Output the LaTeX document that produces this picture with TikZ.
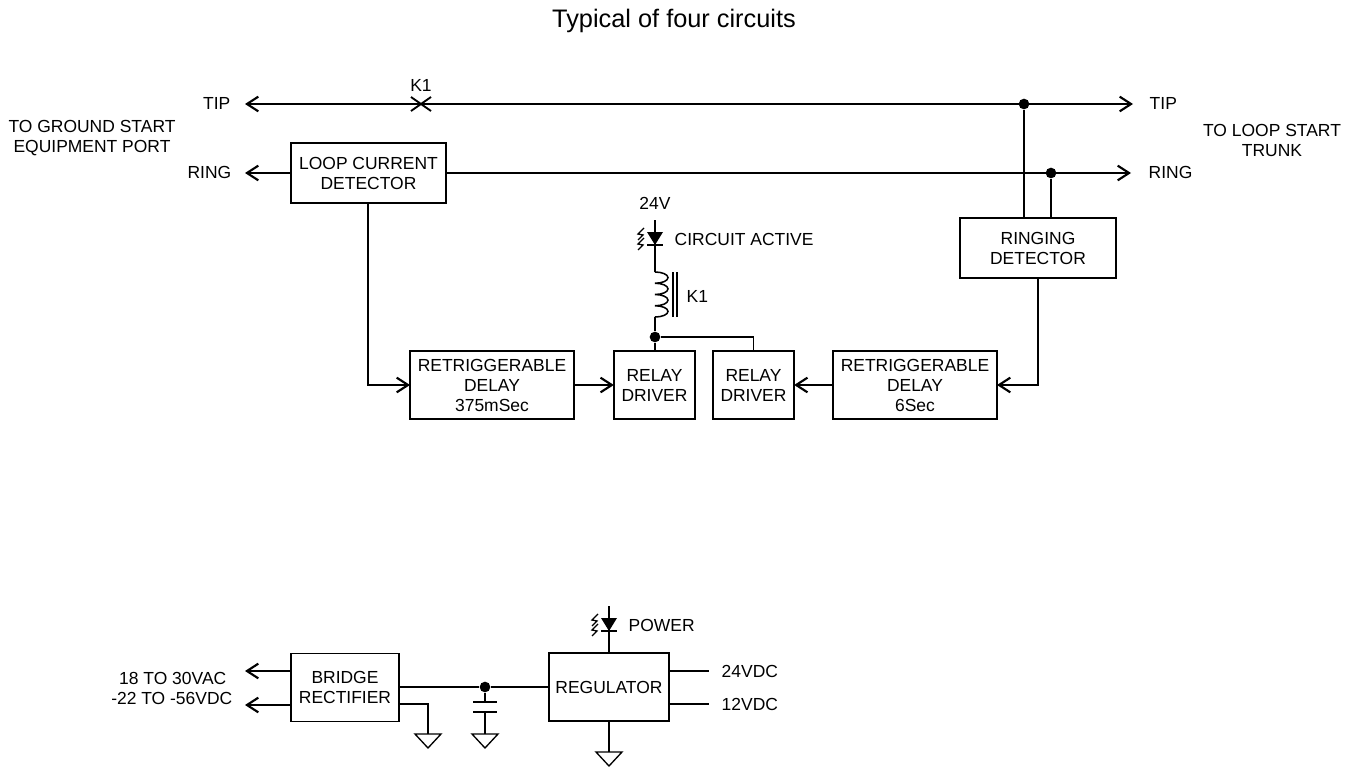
\documentclass[tikz,border=0pt]{standalone}
\usepackage{fontspec}
\setmainfont{Liberation Sans}
\usetikzlibrary{arrows.meta, calc}

\begin{document}
\begin{tikzpicture}[
  x=0.75pt, y=-0.75pt,
  font=\fontsize{13.1}{15}\selectfont,
  line width=1.1pt,
  blk/.style ={draw, align=center, inner sep=0pt, outer sep=0pt},
  lbl/.style ={align=center, inner sep=0pt},
  wire/.style={draw, line width=1.15pt},
  sig/.style ={draw, line width=1.15pt, -{Straight Barb[length=8.5pt,width=11pt,line width=1.6pt]}},
  both/.style={draw, line width=1.15pt, {Straight Barb[length=8.5pt,width=11pt,line width=1.6pt]}-{Straight Barb[length=8.5pt,width=11pt,line width=1.6pt]}},
  dot/.style ={circle, fill=black, inner sep=0pt, minimum size=8pt},
  gnd/.pic={\draw[line width=1pt] (-13,0) -- (13,0) -- (0,14) -- cycle;},
  led/.pic={
    \fill (-8,-13) -- (8,-13) -- (0,0) -- cycle;
    \draw[line width=1.1pt] (-8,0) -- (8,0);
    \draw[line width=1pt] (-11,-17) -- (-17,-11) -- (-12,-10) -- (-17,-5);
    \draw[line width=1pt] (-11,-7) -- (-17,-1) -- (-12,0) -- (-17,5);
  },
]
\useasboundingbox (0,0) rectangle (1350,767);

% =========================== TITLE ==================================
\node[lbl, font=\fontsize{19}{22}\selectfont] (title) at (674, 21) {Typical of four circuits};

% =========================== NODES ==================================
\node[blk, minimum width=116pt, minimum height=45pt] (loop)  at (368.5, 173) {LOOP CURRENT\\DETECTOR};
\node[blk, minimum width=117pt, minimum height=45pt] (ring)  at (1038, 248) {RINGING\\DETECTOR};
\node[blk, minimum width=123pt, minimum height=51pt] (retA)  at (492, 385) {RETRIGGERABLE\\DELAY\\375mSec};
\node[blk, minimum width=61pt,  minimum height=51pt] (drvA)  at (654.5, 385) {RELAY\\DRIVER};
\node[blk, minimum width=61pt,  minimum height=51pt] (drvB)  at (753.5, 385) {RELAY\\DRIVER};
\node[blk, minimum width=123pt, minimum height=51pt] (retB)  at (915, 385) {RETRIGGERABLE\\DELAY\\6Sec};
\node[blk, minimum width=81pt,  minimum height=51pt] (brdg)  at (345, 687.5) {BRIDGE\\RECTIFIER};
\node[blk, minimum width=90pt,  minimum height=51pt] (regl)  at (609, 687) {REGULATOR};

% =========================== LABELS =================================
\node[lbl] (gsport) at (92, 138) {TO GROUND START\\EQUIPMENT PORT};
\node[lbl] (lstrnk) at (1272, 140) {TO LOOP START\\TRUNK};
\node[lbl, anchor=east] (tipL)  at (231, 103) {TIP};
\node[lbl, anchor=east] (ringL) at (232, 172) {RING};
\node[lbl, anchor=west] (tipR)  at (1149, 103) {TIP};
\node[lbl, anchor=west] (ringR) at (1148, 172) {RING};
\node[lbl] (kone)  at (421, 85) {K1};
\node[lbl] (vsup)  at (655, 203) {24V};
\node[lbl, anchor=west] (actv) at (674, 239) {CIRCUIT ACTIVE};
\node[lbl, anchor=west] (ktwo) at (686, 296) {K1};
\node[lbl, anchor=west] (powr) at (628, 625) {POWER};
\node[lbl, anchor=east] (acin) at (227, 678) {18 TO 30VAC};
\node[lbl, anchor=east] (dcin) at (233, 698) {-22 TO -56VDC};
\node[lbl, anchor=west] (vtf)  at (721, 671) {24VDC};
\node[lbl, anchor=west] (vtw)  at (721, 704) {12VDC};

% ======================= FREE ENDS ==================================
\coordinate (tipA)  at (245, 104);
\coordinate (tipB)  at (1133, 104);
\coordinate (ringA) at (245, 173);
\coordinate (ringB) at (1131, 173);
\coordinate (kx)    at (421, 104);
\coordinate (loopD) at (368, 203);
\coordinate (ledA)  at (655, 245);
\coordinate (ledB)  at (609, 631);
\coordinate (coilT) at (655, 272);
\coordinate (coilB) at (655, 317);
\coordinate (acA)   at (245, 671);
\coordinate (dcA)   at (245, 705);
\coordinate (gndA)  at (428, 734);
\coordinate (gndB)  at (485, 734);
\coordinate (gndC)  at (609, 752);
\coordinate (capT)  at (485, 702);
\coordinate (capB)  at (485, 712);
\coordinate (outA)  at (709, 671);
\coordinate (outB)  at (709, 704);

% =========================== JUNCTIONS ==============================
\node[dot] (jtip)  at (1024, 104) {};
\node[dot] (jring) at (1051, 173) {};
\node[dot] (jcoil) at (655, 337) {};
\node[dot] (jcap)  at (485, 687) {};

% ========================= TIP / RING LINES =========================
\draw[both] (tipA) -- (tipB);
\draw[sig] (loop.west |- ringA) -- (ringA);
\draw[sig] (loop.east |- ringB) -- (ringB);
% K1 contact
\draw[line width=1.4pt] ($(kx)+(-10,-7)$) -- ($(kx)+(10,7)$);
\draw[line width=1.4pt] ($(kx)+(-10,7)$) -- ($(kx)+(10,-7)$);
% taps into ringing detector
\draw[wire] (jtip) -- (jtip |- ring.north);
\draw[wire] (jring) -- (jring |- ring.north);

% ========================= DETECT PATHS =============================
\draw[sig] (loopD) |- (retA.west);
\draw[sig] (ring.south) |- (retB.east);
\draw[sig] (retA.east) -- (drvA.west);
\draw[sig] (retB.west) -- (drvB.east);

% ========================= RELAY COIL ===============================
\draw[wire] (655, 220) -- (ledA);
\pic at (ledA) {led};
\draw[wire] (ledA) -- (coilT);
\draw[wire] (coilT) arc (90:-90:9.75pt and 4.22pt) arc (90:-90:9.75pt and 4.22pt) arc (90:-90:9.75pt and 4.22pt) arc (90:-90:9.75pt and 4.22pt);
\draw[line width=1pt] (673, 272) -- (673, 317);
\draw[line width=1pt] (677, 272) -- (677, 317);
\draw[wire] (coilB) -- (jcoil);
\draw[wire] (jcoil) -- (jcoil |- drvA.north);
\draw[wire] (jcoil) -| (drvB.north);

% =========================== POWER ==================================
\draw[sig] (brdg.west |- acA) -- (acA);
\draw[sig] (brdg.west |- dcA) -- (dcA);
\draw[wire] (brdg.east |- jcap) -- (jcap);
\draw[wire] (jcap) -- (jcap -| regl.west);
\draw[wire] (brdg.east |- 0,704) -| (gndA);
\pic at (gndA) {gnd};
% capacitor
\draw[wire] (jcap) -- (capT);
\draw[wire] (capB) -- (gndB);
\draw[line width=1.1pt] ($(capT)+(-12,0)$) -- ($(capT)+(12,0)$);
\draw[line width=1.1pt] ($(capB)+(-12,0)$) -- ($(capB)+(12,0)$);
\pic at (gndB) {gnd};
% regulator
\draw[wire] (609, 606) -- (ledB);
\pic at (ledB) {led};
\draw[wire] (ledB) -- (regl.north);
\draw[wire] (regl.south) -- (gndC);
\pic at (gndC) {gnd};
\draw[wire] (regl.east |- outA) -- (outA);
\draw[wire] (regl.east |- outB) -- (outB);

\end{tikzpicture}
\end{document}
